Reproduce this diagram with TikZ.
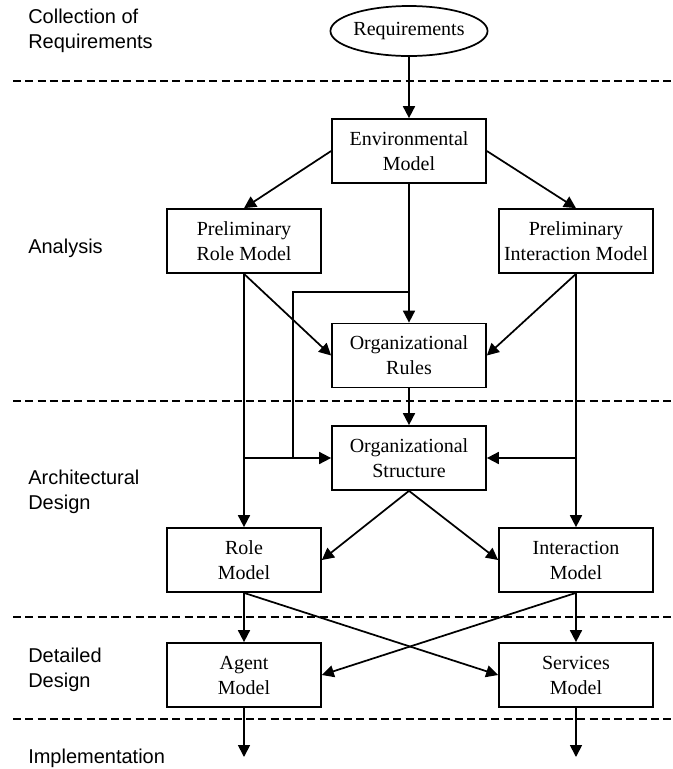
\documentclass[tikz,border=0pt]{standalone}
\usepackage{fontspec}
\setmainfont{Liberation Serif}
\setsansfont{Liberation Sans}
\usetikzlibrary{arrows.meta,shapes.geometric}
\tikzset{
  model/.style={draw,line width=1.3pt,minimum width=115.5pt,minimum height=48pt,inner sep=0pt,align=center,font=\fontsize{15}{18.75}\selectfont},
  phase/.style={anchor=west,align=left,inner sep=0pt,font=\sffamily\fontsize{15}{18.75}\selectfont},
  flow/.style={line width=1.3pt,-{Triangle[length=9pt,width=9pt]}},
  sep/.style={dashed,line width=0.9pt,dash pattern=on 6pt off 3.2pt}
}
\begin{document}
\begin{tikzpicture}[x=0.75pt,y=-0.75pt]
  \useasboundingbox (0,0) rectangle (673,769);
  % phase separators
  \foreach \y in {81,401,617,719} {\draw[sep] (13,\y) -- (673,\y);}
  % phase labels
  \node[phase] (lcoll) at (28,30.5) {Collection of\\Requirements};
  \node[phase] (lana) at (28,248) {Analysis};
  \node[phase] (larch) at (28,491.5) {Architectural\\Design};
  \node[phase] (ldet) at (28,669.5) {Detailed\\Design};
  \node[phase] (limpl) at (28,758) {Implementation};
  % models
  \node[model,ellipse,minimum height=37.5pt] (req) at (409,31) {Requirements};
  \node[model] (env) at (409,151) {Environmental\\Model};
  \node[model] (prole) at (244,241) {Preliminary\\Role Model};
  \node[model] (pint) at (576,241) {Preliminary\\Interaction Model};
  \node[model] (orules) at (409,355.5) {Organizational\\Rules};
  \node[model] (ostruct) at (409,458) {Organizational\\Structure};
  \node[model] (role) at (244,560) {Role\\Model};
  \node[model] (inter) at (576,560) {Interaction\\Model};
  \node[model] (agent) at (244,675) {Agent\\Model};
  \node[model] (serv) at (576,675) {Services\\Model};
  \coordinate (br1) at (409,292);
  \coordinate (br2) at (293,292);
  \coordinate (br3) at (293,458);
  \coordinate (jl) at (244,458);
  \coordinate (jr) at (576,458);
  \coordinate (outa) at (244,757);
  \coordinate (outs) at (576,757);
  % connectors
  \draw[flow] (req) -- (env);
  \draw[flow] (env.west) -- (prole.north);
  \draw[flow] (env.east) -- (pint.north);
  \draw[flow] (env) -- (orules);
  \draw[line width=1.3pt] (br1) -- (br2) -- (br3);
  \draw[flow] (prole.south) -- (orules.west);
  \draw[flow] (pint.south) -- (orules.east);
  \draw[flow] (prole) -- (role);
  \draw[flow] (pint) -- (inter);
  \draw[flow] (jl) -- (ostruct.west);
  \draw[flow] (jr) -- (ostruct.east);
  \draw[flow] (orules) -- (ostruct);
  \draw[flow] (ostruct.south) -- (role.east);
  \draw[flow] (ostruct.south) -- (inter.west);
  \draw[flow] (role) -- (agent);
  \draw[flow] (inter) -- (serv);
  \draw[flow] (role.south) -- (serv.west);
  \draw[flow] (inter.south) -- (agent.east);
  \draw[flow] (agent) -- (outa);
  \draw[flow] (serv) -- (outs);
\end{tikzpicture}
\end{document}
